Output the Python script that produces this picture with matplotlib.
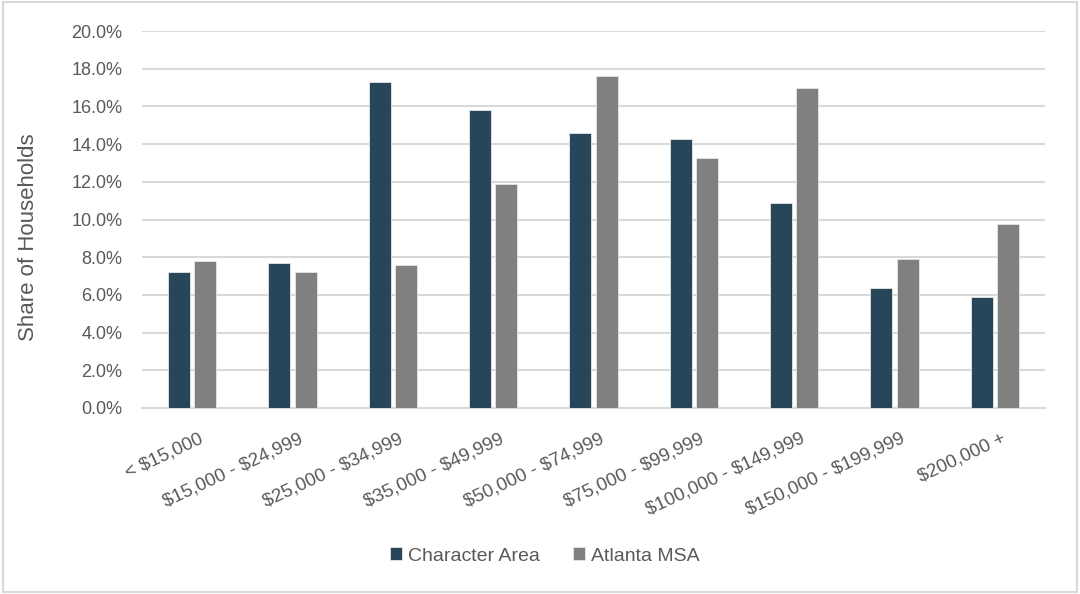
import numpy as np
import matplotlib.pyplot as plt
import matplotlib.transforms as mtransforms
from matplotlib.patches import Rectangle
from matplotlib.ticker import PercentFormatter

plt.rcParams['font.family'] = ['Liberation Sans Narrow', 'Liberation Sans', 'DejaVu Sans']
plt.rcParams['text.parse_math'] = False

categories = ["< $15,000", "$15,000 - $24,999", "$25,000 - $34,999",
              "$35,000 - $49,999", "$50,000 - $74,999", "$75,000 - $99,999",
              "$100,000 - $149,999", "$150,000 - $199,999", "$200,000 +"]
character_area = [7.24, 7.69, 17.31, 15.83, 14.58, 14.26, 10.87, 6.34, 5.88]
atlanta_msa = [7.81, 7.24, 7.58, 11.87, 17.63, 13.25, 16.96, 7.92, 9.74]

ca_color = "#284659"
msa_color = "#808080"
text_color = "#595959"

fig = plt.figure(figsize=(10.8, 5.94), dpi=100)
ax = fig.add_axes([142 / 1080, 1 - 408 / 594, 903 / 1080, 377 / 594])

x = np.arange(len(categories))
w = 0.22
gap = 0.04
ax.bar(x - (w + gap) / 2, character_area, w, color=ca_color,
       edgecolor="#e6e6e6", linewidth=0.6, label="Character Area", zorder=3)
ax.bar(x + (w + gap) / 2, atlanta_msa, w, color=msa_color,
       edgecolor="#e6e6e6", linewidth=0.6, label="Atlanta MSA", zorder=3)

ax.set_xlim(-0.5, len(categories) - 0.5)
ax.set_ylim(0, 20)
ax.set_yticks(np.arange(0, 21, 2))
ax.yaxis.set_major_formatter(PercentFormatter(decimals=1))
ax.grid(axis="y", color="#d9d9d9", linewidth=1.5, zorder=0)
for s in ["top", "right", "left"]:
    ax.spines[s].set_visible(False)
ax.spines["bottom"].set_color("#d9d9d9")
ax.spines["bottom"].set_linewidth(1.5)
ax.tick_params(axis="both", length=0, colors=text_color, labelsize=13)
ax.tick_params(axis="y", pad=14)

ax.set_xticks(x)
ax.set_xticklabels(categories, rotation=25, ha="right", va="top",
                   rotation_mode="anchor", fontsize=13.5)
ax.tick_params(axis="x", pad=16)
shift = mtransforms.ScaledTranslation(6 / 100, 0, fig.dpi_scale_trans)
for lbl in ax.get_xticklabels():
    lbl.set_transform(lbl.get_transform() + shift)

ax.set_ylabel("Share of Households", fontsize=16, color=text_color)
ax.yaxis.set_label_coords(-0.114, 0.4536)

ax.legend(loc="center", bbox_to_anchor=(0.446, -0.3926), ncol=2, frameon=False,
          fontsize=14, handlelength=0.62, handleheight=0.62, handletextpad=0.3,
          columnspacing=1.7, labelcolor=text_color)

fig.patches.append(Rectangle((0.003, 0.003), 0.994, 0.994, transform=fig.transFigure,
                             fill=False, edgecolor="#d9d9d9", linewidth=1.5))

fig.savefig("out.png", dpi=100)
